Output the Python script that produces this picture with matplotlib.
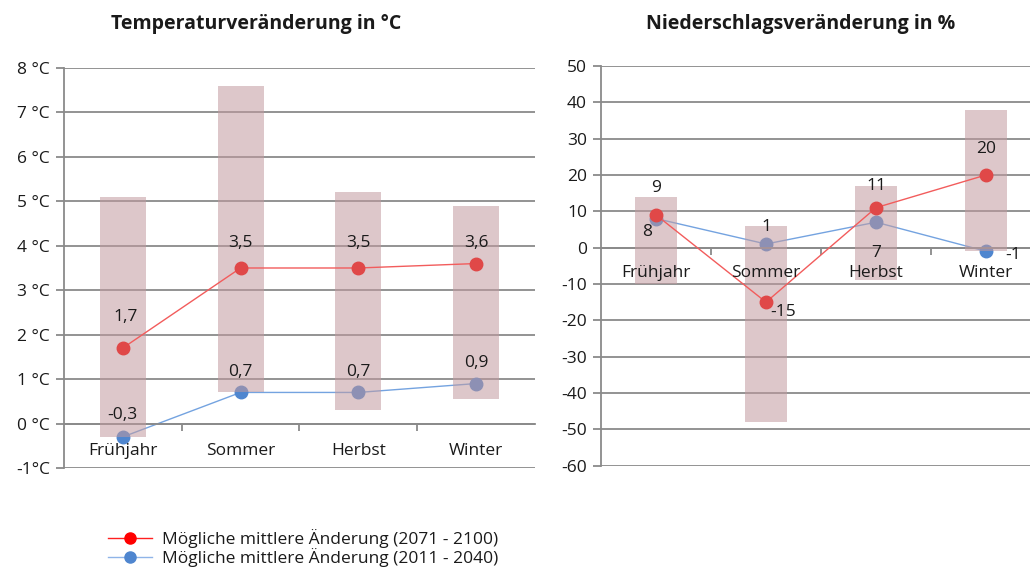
import matplotlib
matplotlib.use("Agg")
import matplotlib.pyplot as plt
from matplotlib.lines import Line2D

plt.rcParams['font.family'] = ['Open Sans', 'DejaVu Sans']

# Daten
seasons = ["Frühjahr", "Sommer", "Herbst", "Winter"]

temp_range_low = [-0.3, 0.7, 0.3, 0.55]
temp_range_high = [5.1, 7.6, 5.2, 4.9]
temp_late = [1.7, 3.5, 3.5, 3.6]     # 2071 - 2100
temp_early = [-0.3, 0.7, 0.7, 0.9]   # 2011 - 2040
temp_ticks = [8, 7, 6, 5, 4, 3, 2, 1, 0, -1]
temp_ticklabels = ["8 °C", "7 °C", "6 °C", "5 °C", "4 °C", "3 °C", "2 °C", "1 °C", "0 °C", "-1°C"]

prec_range_low = [-10, -48, -9, -1]
prec_range_high = [14, 6, 17, 38]
prec_late = [9, -15, 11, 20]
prec_early = [8, 1, 7, -1]
prec_ticks = [50, 40, 30, 20, 10, 0, -10, -20, -30, -40, -50, -60]

legend_labels = ["Mögliche mittlere Änderung (2071 - 2100)",
                 "Mögliche mittlere Änderung (2011 - 2040)"]

# Farben
bar_color = "#c19a9f"
red_line = "#f25c5c"
red_marker = "#e04848"
blue_line = "#74a3e0"
blue_marker = "#4f86cf"
grid_color = "#8a8a8a"
text_color = "#1a1a1a"
fs = 12.5


def fmt_de(v, decimals):
    return f"{v:.{decimals}f}".replace(".", ",")


def setup_axis(ax, ticks, ticklabels, ylim, label_off):
    x = list(range(len(seasons)))
    ax.set_xlim(-0.5, len(seasons) - 0.5)
    ax.set_ylim(*ylim)
    ax.set_yticks(ticks)
    ax.set_yticklabels(ticklabels)
    ax.yaxis.grid(True, color=grid_color, lw=1.3)
    ax.set_axisbelow(True)
    ax.tick_params(axis="y", length=6, width=1.3, color=grid_color,
                   labelsize=fs, labelcolor=text_color, pad=4)
    for s in ["top", "right"]:
        ax.spines[s].set_visible(False)
    ax.spines["left"].set_color(grid_color)
    ax.spines["left"].set_linewidth(1.3)
    ax.spines["bottom"].set_position(("data", 0))
    ax.spines["bottom"].set_color(grid_color)
    ax.spines["bottom"].set_linewidth(1.3)
    # Trennstriche zwischen Kategorien
    ax.set_xticks([i + 0.5 for i in x[:-1]])
    ax.set_xticklabels([])
    ax.tick_params(axis="x", which="major", direction="out", length=5,
                   width=1.3, color=grid_color)
    # Kategorienamen ueber den Balken
    for i, s in enumerate(seasons):
        ax.annotate(s, (i, 0), xytext=(0, -label_off), textcoords="offset pixels",
                    ha="center", va="center", fontsize=fs, color=text_color,
                    zorder=6)


def draw_series(ax, low, high, late, early):
    x = list(range(len(seasons)))
    ax.plot(x, early, color=blue_line, lw=1.0, marker="o", ms=9,
            mfc=blue_marker, mec=blue_marker, zorder=2)
    heights = [h - l for h, l in zip(high, low)]
    ax.bar(x, heights, bottom=low, width=0.39, color=bar_color,
           alpha=0.55, zorder=3, linewidth=0)
    ax.plot(x, late, color=red_line, lw=1.0, marker="o", ms=9,
            mfc=red_marker, mec=red_marker, zorder=4)


fig = plt.figure(figsize=(10.3, 5.67), dpi=100)

# Temperatur
ax1 = fig.add_axes([0.0621, 0.1746, 0.4573, 0.7055])
setup_axis(ax1, temp_ticks, temp_ticklabels, (-1, 8), 27)
draw_series(ax1, temp_range_low, temp_range_high, temp_late, temp_early)
late_off = [(3, 31), (0, 25), (0, 25), (0, 21)]
early_off = [(0, 22), (0, 20), (0, 20), (0, 21)]
for i in range(len(seasons)):
    ax1.annotate(fmt_de(temp_late[i], 1), (i, temp_late[i]), xytext=late_off[i],
                 textcoords="offset pixels", ha="center", va="center",
                 fontsize=fs, color=text_color, zorder=5)
    ax1.annotate(fmt_de(temp_early[i], 1), (i, temp_early[i]), xytext=early_off[i],
                 textcoords="offset pixels", ha="center", va="center",
                 fontsize=fs, color=text_color, zorder=5)
fig.text(0.249, 0.958, "Temperaturveränderung in °C", ha="center", va="center",
         fontsize=14, fontweight="bold", color=text_color)

# Niederschlag
ax2 = fig.add_axes([0.5835, 0.1787, 0.4272, 0.705])
setup_axis(ax2, prec_ticks, [str(t) for t in prec_ticks], (-60, 50), 25)
draw_series(ax2, prec_range_low, prec_range_high, prec_late, prec_early)
late_off = [(0, 27), (17, -10), (0, 22), (0, 26)]
early_off = [(-9, -13), (0, 17), (0, -31), (27, -4)]
for i in range(len(seasons)):
    ax2.annotate(fmt_de(prec_late[i], 0), (i, prec_late[i]), xytext=late_off[i],
                 textcoords="offset pixels", ha="center", va="center",
                 fontsize=fs, color=text_color, zorder=5)
    ax2.annotate(fmt_de(prec_early[i], 0), (i, prec_early[i]), xytext=early_off[i],
                 textcoords="offset pixels", ha="center", va="center",
                 fontsize=fs, color=text_color, zorder=5)
fig.text(0.777, 0.958, "Niederschlagsveränderung in %", ha="center", va="center",
         fontsize=14, fontweight="bold", color=text_color)

# Legende
handles = [
    Line2D([], [], color="#ff2020", lw=1.0, marker="o", ms=8,
           mfc="#ff0000", mec="#ff0000"),
    Line2D([], [], color="#8fb4e8", lw=1.0, marker="o", ms=8,
           mfc=blue_marker, mec=blue_marker),
]
fig.legend(handles, legend_labels, loc="upper left",
           bbox_to_anchor=(0.105, 0.067), frameon=False, fontsize=fs,
           handlelength=2.5, handletextpad=0.6, labelspacing=0.0,
           borderpad=0, borderaxespad=0, labelcolor=text_color)

fig.savefig("out.png", dpi=100)
